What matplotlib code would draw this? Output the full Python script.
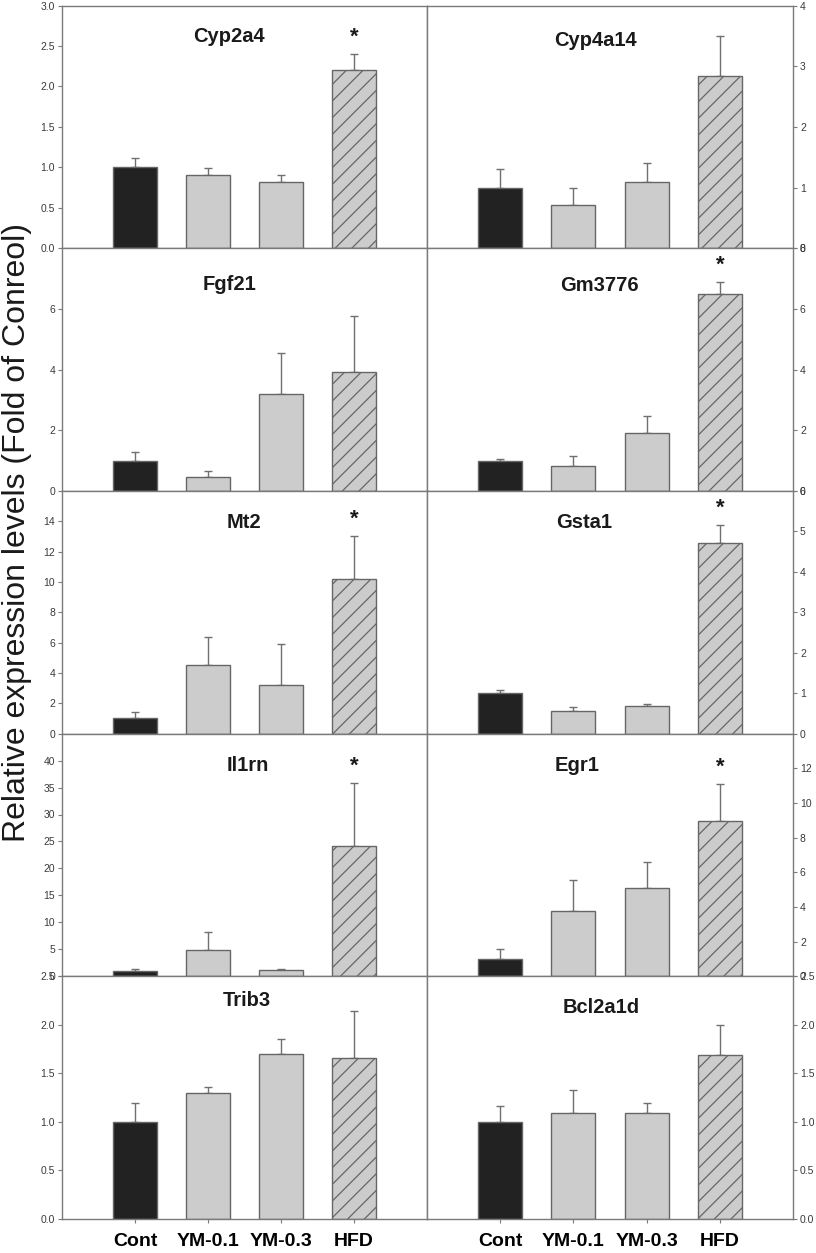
import numpy as np
import matplotlib.pyplot as plt
from matplotlib.ticker import FixedLocator, FormatStrFormatter

plt.rcParams['font.family'] = ['Liberation Sans', 'DejaVu Sans']
plt.rcParams['hatch.color'] = '#7a7a7a'
plt.rcParams['hatch.linewidth'] = 0.9

groups = ['Cont', 'YM-0.1', 'YM-0.3', 'HFD']

# panel order: row by row, left then right
genes = ['Cyp2a4', 'Cyp4a14', 'Fgf21', 'Gm3776', 'Mt2',
         'Gsta1', 'Il1rn', 'Egr1', 'Trib3', 'Bcl2a1d']

cyp2a4_mean = [1.0, 0.9, 0.82, 2.2]
cyp2a4_err = [0.12, 0.09, 0.08, 0.2]
cyp4a14_mean = [1.0, 0.72, 1.09, 2.83]
cyp4a14_err = [0.3, 0.27, 0.32, 0.67]
fgf21_mean = [1.0, 0.45, 3.18, 3.92]
fgf21_err = [0.28, 0.2, 1.35, 1.85]
gm3776_mean = [1.0, 0.82, 1.92, 6.48]
gm3776_err = [0.06, 0.32, 0.55, 0.4]
mt2_mean = [1.0, 4.5, 3.18, 10.2]
mt2_err = [0.45, 1.85, 2.7, 2.85]
gsta1_mean = [1.0, 0.57, 0.68, 4.72]
gsta1_err = [0.08, 0.09, 0.06, 0.44]
il1rn_mean = [1.0, 4.9, 1.1, 24.2]
il1rn_err = [0.35, 3.3, 0.2, 11.7]
egr1_mean = [1.0, 3.75, 5.12, 8.95]
egr1_err = [0.55, 1.8, 1.45, 2.15]
trib3_mean = [1.0, 1.3, 1.7, 1.66]
trib3_err = [0.2, 0.06, 0.15, 0.48]
bcl2a1d_mean = [1.0, 1.09, 1.09, 1.69]
bcl2a1d_err = [0.16, 0.24, 0.1, 0.31]

significant = ['Cyp2a4', 'Gm3776', 'Mt2', 'Gsta1', 'Il1rn', 'Egr1']

means = [cyp2a4_mean, cyp4a14_mean, fgf21_mean, gm3776_mean, mt2_mean,
         gsta1_mean, il1rn_mean, egr1_mean, trib3_mean, bcl2a1d_mean]
errs = [cyp2a4_err, cyp4a14_err, fgf21_err, gm3776_err, mt2_err,
        gsta1_err, il1rn_err, egr1_err, trib3_err, bcl2a1d_err]

# axis settings per panel
y_top = [3.0, 4, 8, 8, 16, 6, 45, 14, 2.5, 2.5]
y_ticks = [np.arange(0, 3.01, 0.5), np.arange(0, 5, 1), np.arange(0, 7, 2),
           np.arange(0, 9, 2), np.arange(0, 15, 2), np.arange(0, 7, 1),
           np.arange(0, 41, 5), np.arange(0, 13, 2), np.arange(0, 2.51, 0.5),
           np.arange(0, 2.51, 0.5)]
y_fmt = ['%.1f', '%d', '%d', '%d', '%d', '%d', '%d', '%d', '%.1f', '%.1f']
title_pos = [(0.458, 0.874), (0.46, 0.855), (0.458, 0.852), (0.471, 0.845),
             (0.499, 0.869), (0.429, 0.869), (0.51, 0.868), (0.41, 0.868),
             (0.507, 0.9), (0.477, 0.87)]

fig = plt.figure(figsize=(8.16, 12.53), dpi=100)
W, H = 816.0, 1253.0
col_x = [62, 427]
col_w = [365, 366]
top = 5.5
row_h = 242.7

x = np.arange(len(groups))
face = ['#222222', '#cccccc', '#cccccc', '#cccccc']
line_c = '#7a7a7a'

for i, gene in enumerate(genes):
    row, col = divmod(i, 2)
    y0 = top + row_h * (row + 1)
    ax = fig.add_axes([col_x[col] / W, 1 - y0 / H, col_w[col] / W, row_h / H])

    m = means[i]
    e = errs[i]
    ax.errorbar(x, m, yerr=[np.zeros(len(e)), e], fmt='none', ecolor='#707070',
                elinewidth=1, capsize=3, capthick=1, zorder=1)
    bars = ax.bar(x, m, width=0.6, color=face, edgecolor='#666666',
                  linewidth=1, zorder=2)
    bars[3].set_hatch('//')

    ax.set_xlim(-1, 4)
    ax.set_ylim(0, y_top[i])
    ax.yaxis.set_major_locator(FixedLocator(y_ticks[i]))
    ax.yaxis.set_major_formatter(FormatStrFormatter(y_fmt[i]))

    for s in ax.spines.values():
        s.set_color(line_c)
        s.set_linewidth(1)

    if col == 0:
        ax.yaxis.tick_left()
    else:
        ax.yaxis.tick_right()
    ax.tick_params(axis='y', direction='out', length=3, width=0.8, color=line_c,
                   labelsize=7.5, labelcolor='#3a3a3a', pad=2)

    if row == 4:
        ax.set_xticks(x)
        ax.set_xticklabels(groups, fontsize=14, fontweight='bold')
        ax.tick_params(axis='x', direction='out', length=3, width=0.8,
                       color=line_c, pad=7)
    else:
        ax.set_xticks([])

    tx, ty = title_pos[i]
    ax.text(tx, ty, gene, transform=ax.transAxes, ha='center', va='center',
            fontsize=14.5, fontweight='bold', color='#1a1a1a')

    if gene in significant:
        frac = (m[3] + e[3]) / y_top[i] + 0.068
        ax.text(3, frac * y_top[i], '*', ha='center', va='center',
                fontsize=16, fontweight='bold', color='#1a1a1a')

fig.text(17 / W, 1 - 532 / H, 'Relative expression levels (Fold of Conreol)',
         rotation=90, ha='center', va='center', fontsize=23, color='#1a1a1a')

fig.savefig('out.png', dpi=100)
